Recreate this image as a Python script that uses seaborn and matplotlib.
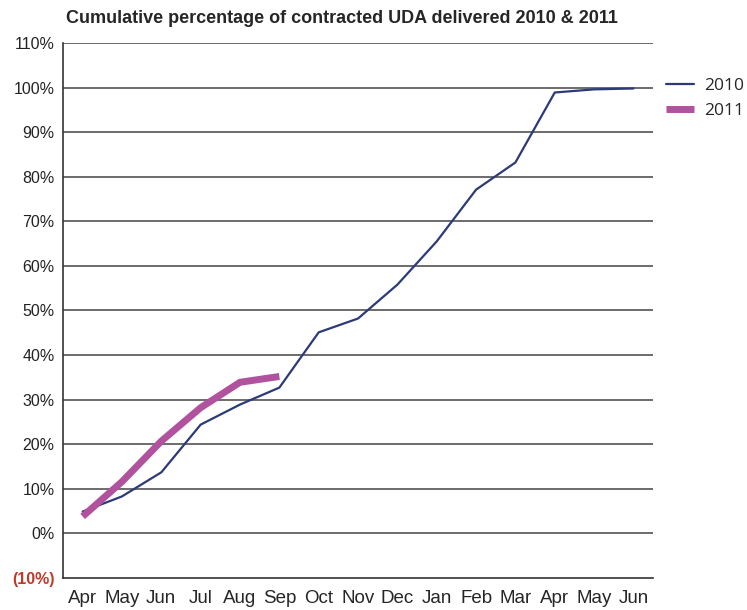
"""Cumulative percentage of contracted UDA delivered, 2010 vs 2011."""
import numpy as np
import pandas as pd
import matplotlib
matplotlib.use('Agg')
import matplotlib.pyplot as plt
import seaborn as sns

months = ['Apr', 'May', 'Jun', 'Jul', 'Aug', 'Sep', 'Oct', 'Nov',
          'Dec', 'Jan', 'Feb', 'Mar', 'Apr', 'May', 'Jun']
pct_2010 = [4.9, 8.3, 13.7, 24.4, 28.9, 32.7, 45.1, 48.2,
            55.8, 65.5, 77.1, 83.2, 98.9, 99.6, 99.8]
pct_2011 = [3.8, 11.6, 20.7, 28.2, 33.9, 35.2]
y_ticks = [-10, 0, 10, 20, 30, 40, 50, 60, 70, 80, 90, 100, 110]
y_tick_labels = ['(10%)', '0%', '10%', '20%', '30%', '40%', '50%',
                 '60%', '70%', '80%', '90%', '100%', '110%']

df = pd.concat([
    pd.DataFrame({'idx': range(len(pct_2010)), 'pct': pct_2010, 'year': '2010'}),
    pd.DataFrame({'idx': range(len(pct_2011)), 'pct': pct_2011, 'year': '2011'}),
])

sns.set_style('white')
plt.rcParams['font.family'] = ['Liberation Sans', 'DejaVu Sans']
narrow = ['Liberation Sans Narrow', 'Liberation Sans']

fig = plt.figure(figsize=(7.47, 6.10), dpi=100)
ax = fig.add_axes([0.0843, 0.0525, 0.790, 0.877])

palette = {'2010': '#2c3a78', '2011': '#b0529e'}
sns.lineplot(data=df[df.year == '2010'], x='idx', y='pct', color=palette['2010'],
             lw=1.6, ax=ax, label='2010', legend=False)
sns.lineplot(data=df[df.year == '2011'], x='idx', y='pct', color=palette['2011'],
             lw=5, ax=ax, label='2011', legend=False, solid_capstyle='butt')

ax.set_xlim(-0.5, len(months) - 0.5)
ax.set_ylim(-10, 110)

# horizontal gridlines
for v in y_ticks[1:]:
    ax.axhline(v, color='#444444', lw=1.1, zorder=0)

ax.set_yticks(y_ticks)
ax.set_yticklabels(y_tick_labels, fontsize=11.5, color='#222222')
ax.get_yticklabels()[0].set_color('#c0392b')
ax.get_yticklabels()[0].set_fontweight('bold')

ax.set_xticks(np.arange(-0.5, len(months)), minor=False)
ax.set_xticklabels([])
ax.set_xticks(np.arange(len(months)), minor=True)
ax.set_xticklabels(months, minor=True, fontsize=13.5, family=narrow)
ax.tick_params(axis='x', which='minor', length=0, pad=9)
ax.tick_params(axis='x', which='major', length=7, width=1.1, color='#333333', direction='out')
ax.tick_params(axis='y', length=5, width=1.1, color='#333333', direction='out', pad=1)

for s in ['top', 'right']:
    ax.spines[s].set_visible(False)
for s in ['left', 'bottom']:
    ax.spines[s].set_color('#333333')
    ax.spines[s].set_linewidth(1.2)

ax.set_xlabel('')
ax.set_ylabel('')

fig.text(0.458, 0.97, 'Cumulative percentage of contracted UDA delivered 2010 & 2011',
         ha='center', va='center', fontsize=13, fontweight='bold', family=narrow)

handles, labels = ax.get_legend_handles_labels()
fig.legend(handles, labels, loc='center left', bbox_to_anchor=(0.875, 0.838),
           frameon=False, handlelength=1.6, handletextpad=0.6, labelspacing=0.5,
           borderpad=0.2, prop={'family': ['Open Sans'], 'size': 12.5})

fig.savefig('out.png', dpi=100)
